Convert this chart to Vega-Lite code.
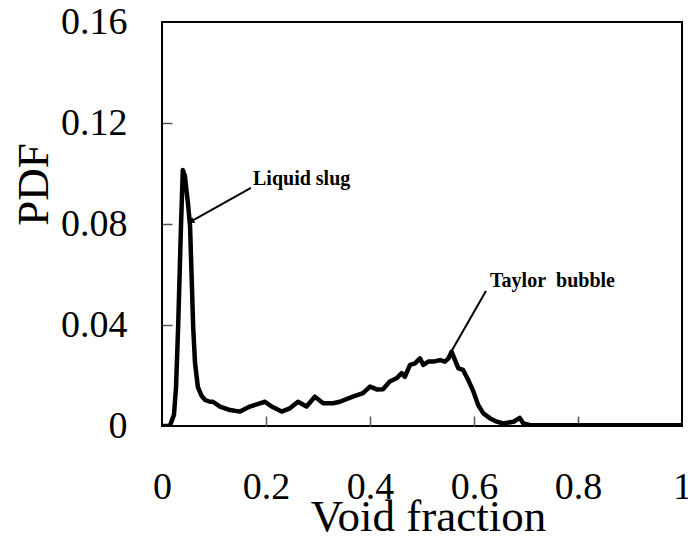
{
  "$schema": "https://vega.github.io/schema/vega-lite/v6.json",
  "autosize": {"type": "none"},
  "width": 520,
  "height": 404,
  "padding": {"left": 162, "top": 22, "right": 6, "bottom": 115},
  "background": "white",
  "config": {
    "view": {"stroke": "black", "strokeWidth": 2},
    "font": "Liberation Serif"
  },
  "datasets": {
    "pdf": [
      {"x": 0, "y": 0}, {"x": 0.015, "y": 0}, {"x": 0.023, "y": 0.0044}, {"x": 0.027, "y": 0.0154},
      {"x": 0.031, "y": 0.039}, {"x": 0.0365, "y": 0.079}, {"x": 0.040, "y": 0.1014}, {"x": 0.044, "y": 0.099},
      {"x": 0.050, "y": 0.088}, {"x": 0.054, "y": 0.079}, {"x": 0.060, "y": 0.039}, {"x": 0.0635, "y": 0.025},
      {"x": 0.069, "y": 0.0154}, {"x": 0.076, "y": 0.012}, {"x": 0.083, "y": 0.0103}, {"x": 0.092, "y": 0.0096},
      {"x": 0.098, "y": 0.0096}, {"x": 0.1115, "y": 0.0077}, {"x": 0.131, "y": 0.0063}, {"x": 0.150, "y": 0.0057},
      {"x": 0.169, "y": 0.0077}, {"x": 0.198, "y": 0.0096}, {"x": 0.211, "y": 0.0077}, {"x": 0.230, "y": 0.0057},
      {"x": 0.246, "y": 0.0070}, {"x": 0.2615, "y": 0.0096}, {"x": 0.278, "y": 0.0077}, {"x": 0.294, "y": 0.0116},
      {"x": 0.310, "y": 0.0090}, {"x": 0.329, "y": 0.0090}, {"x": 0.342, "y": 0.0096}, {"x": 0.367, "y": 0.0116},
      {"x": 0.3865, "y": 0.0130}, {"x": 0.400, "y": 0.0156}, {"x": 0.413, "y": 0.0145}, {"x": 0.425, "y": 0.0146},
      {"x": 0.438, "y": 0.0176}, {"x": 0.451, "y": 0.0189}, {"x": 0.461, "y": 0.0209}, {"x": 0.467, "y": 0.0195},
      {"x": 0.477, "y": 0.0242}, {"x": 0.4865, "y": 0.0248}, {"x": 0.496, "y": 0.0268}, {"x": 0.5025, "y": 0.0242},
      {"x": 0.512, "y": 0.0255}, {"x": 0.522, "y": 0.0255}, {"x": 0.535, "y": 0.0261}, {"x": 0.544, "y": 0.0255},
      {"x": 0.551, "y": 0.0268}, {"x": 0.557, "y": 0.0294}, {"x": 0.5635, "y": 0.0261}, {"x": 0.570, "y": 0.0228},
      {"x": 0.579, "y": 0.0222}, {"x": 0.589, "y": 0.0182}, {"x": 0.599, "y": 0.0136}, {"x": 0.608, "y": 0.0083},
      {"x": 0.618, "y": 0.0050}, {"x": 0.631, "y": 0.0030}, {"x": 0.644, "y": 0.0017}, {"x": 0.656, "y": 0.0010},
      {"x": 0.676, "y": 0.0017}, {"x": 0.688, "y": 0.0032}, {"x": 0.695, "y": 0.0010}, {"x": 0.708, "y": 0.0003},
      {"x": 1.0, "y": 0.0003}
    ],
    "notes": [
      {"label": "Liquid slug", "tx": 0.175, "ty": 0.0954, "x1": 0.171, "y1": 0.0943, "x2": 0.0577, "y2": 0.0812, "ang": 241, "head": 1},
      {"label": "Taylor\u00a0 bubble", "tx": 0.631, "ty": 0.0550, "x1": 0.623, "y1": 0.0535, "x2": 0.558, "y2": 0.0301, "ang": 0, "head": 0}
    ]
  },
  "resolve": {"axis": {"x": "independent", "y": "independent"}},
  "layer": [
    {
      "data": {"name": "pdf"},
      "mark": {"type": "line", "color": "black", "strokeWidth": 4.5, "strokeJoin": "round", "clip": true},
      "encoding": {
        "x": {
          "field": "x", "type": "quantitative",
          "scale": {"domain": [0, 1], "nice": false},
          "axis": {
            "orient": "bottom",
            "values": [0, 0.2, 0.4, 0.6, 0.8, 1],
            "labelExpr": "format(datum.value, '.1~f')",
            "grid": false, "domain": false, "ticks": false,
            "labelFont": "Liberation Serif", "labelFontSize": 38, "labelColor": "black",
            "labelBaseline": "alphabetic", "labelPadding": 72, "labelFlush": false,
            "title": "Void fraction", "titleFont": "Liberation Serif", "titleFontSize": 45,
            "titleFontWeight": "normal", "titleColor": "black",
            "titleBaseline": "alphabetic", "titleX": 266, "titleY": 104
          }
        },
        "y": {
          "field": "y", "type": "quantitative",
          "scale": {"domain": [0, 0.16], "nice": false},
          "axis": {
            "orient": "left",
            "values": [0, 0.04, 0.08, 0.12, 0.16],
            "labelExpr": "format(datum.value, '.2~f')",
            "grid": false, "domain": false, "ticks": false,
            "labelFont": "Liberation Serif", "labelFontSize": 38, "labelColor": "black",
            "labelPadding": 35, "labelFlush": false,
            "title": "PDF", "titleFont": "Liberation Serif", "titleFontSize": 45,
            "titleFontWeight": "normal", "titleColor": "black",
            "titleBaseline": "alphabetic", "titleAlign": "center", "titleAngle": -90,
            "titleX": -115, "titleY": 162
          }
        }
      }
    },
    {
      "data": {"name": "pdf"},
      "mark": {"type": "point", "opacity": 0, "size": 0},
      "encoding": {
        "x": {
          "field": "x", "type": "quantitative",
          "axis": {
            "orient": "bottom", "offset": -10,
            "values": [0.2, 0.4, 0.6, 0.8],
            "grid": false, "domain": false, "labels": false, "title": null,
            "ticks": true, "tickSize": 10, "tickColor": "#555", "tickWidth": 1.5
          }
        },
        "y": {
          "field": "y", "type": "quantitative",
          "axis": {
            "orient": "left", "offset": -10,
            "values": [0.04, 0.08, 0.12],
            "grid": false, "domain": false, "labels": false, "title": null,
            "ticks": true, "tickSize": 10, "tickColor": "#555", "tickWidth": 1.5
          }
        }
      }
    },
    {
      "data": {"name": "notes"},
      "mark": {"type": "rule", "color": "black", "strokeWidth": 2},
      "encoding": {
        "x": {"field": "x1", "type": "quantitative", "axis": null},
        "y": {"field": "y1", "type": "quantitative", "axis": null},
        "x2": {"field": "x2"},
        "y2": {"field": "y2"}
      }
    },
    {
      "data": {"name": "notes"},
      "transform": [{"filter": "datum.head == 1"}],
      "mark": {"type": "point", "shape": "triangle", "filled": true, "color": "black", "size": 45, "opacity": 1},
      "encoding": {
        "x": {"field": "x2", "type": "quantitative", "axis": null},
        "y": {"field": "y2", "type": "quantitative", "axis": null},
        "angle": {"field": "ang", "type": "quantitative", "scale": null}
      }
    },
    {
      "data": {"name": "notes"},
      "mark": {"type": "text", "align": "left", "baseline": "alphabetic", "font": "Liberation Serif", "fontWeight": "bold", "fontSize": 20, "color": "black"},
      "encoding": {
        "x": {"field": "tx", "type": "quantitative", "axis": null},
        "y": {"field": "ty", "type": "quantitative", "axis": null},
        "text": {"field": "label"}
      }
    }
  ]
}
